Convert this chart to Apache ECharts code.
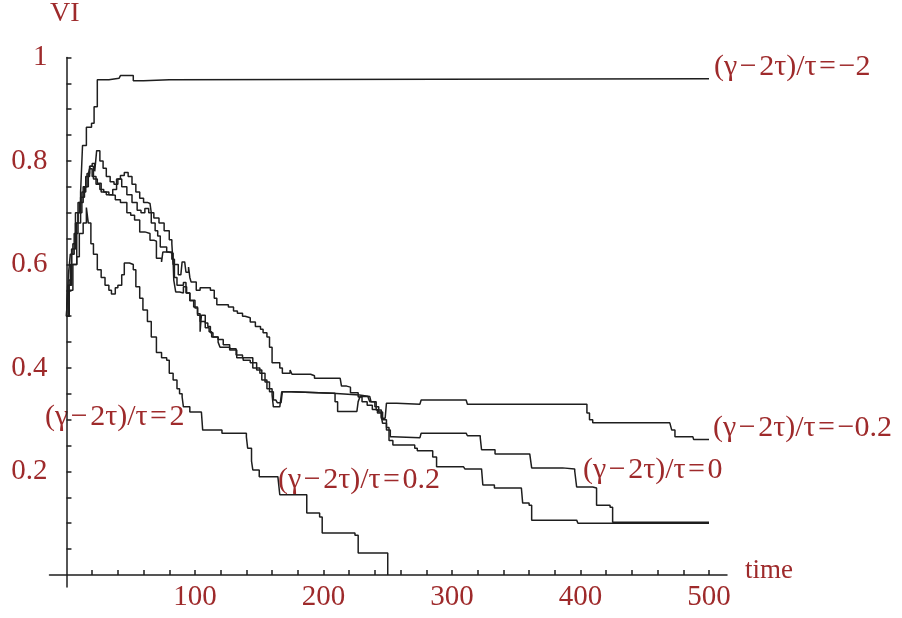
<!DOCTYPE html>
<html>
<head>
<meta charset="utf-8">
<script src="https://cdn.jsdelivr.net/npm/echarts@6/dist/echarts.min.js"></script>
<style>
html,body{margin:0;padding:0;background:#fff;}
#main{width:902px;height:618px;}
</style>
</head>
<body>
<div id="main"></div>
<script>
// tick values
var xLabels = [100, 200, 300, 400, 500];
var xTicks = [20, 40, 60, 80, 100, 120, 140, 160, 180, 200, 220, 240, 260, 280, 300, 320, 340, 360, 380, 400, 420, 440, 460, 480, 500];
var yLabels = [0.2, 0.4, 0.6, 0.8, 1];
var yTicks = [0.05, 0.1, 0.15, 0.2, 0.25, 0.3, 0.35, 0.4, 0.45, 0.5, 0.55, 0.6, 0.65, 0.7, 0.75, 0.8, 0.85, 0.9, 0.95, 1];

// (γ-2τ)/τ = -2
var curveM2 = [[0,0.5],[1.5,0.58],[3,0.62],[5,0.64],[7,0.68],[9,0.72],[11,0.74],[12.5,0.83],[15.5,0.865],[19.5,0.873],[21.5,0.905],[24,0.957],[33,0.957],[34,0.96],[41,0.96],[42,0.965],[50,0.965],[52,0.955],[60,0.953],[61,0.957],[80,0.957],[81,0.959],[500,0.959]];

// (γ-2τ)/τ = -0.2
var curveM02 = [[0,0.5],[2,0.57],[4,0.62],[6,0.66],[9,0.7],[12,0.74],[15,0.77],[18,0.785],[20,0.77],[23,0.755],[26,0.745],[29,0.74],[33,0.735],[36,0.745],[39,0.765],[42,0.772],[45,0.778],[48,0.77],[51,0.755],[54,0.74],[57,0.728],[60,0.72],[63,0.718],[65,0.715],[66,0.7],[68,0.69],[72,0.68],[76,0.665],[80,0.648],[82,0.64],[83,0.6],[87,0.58],[89,0.58],[90,0.605],[92,0.605],[93,0.585],[95,0.595],[96,0.575],[97,0.566],[101,0.55],[104,0.555],[112,0.55],[115,0.535],[117,0.522],[126,0.518],[130,0.51],[133,0.506],[137,0.5],[139,0.497],[143,0.489],[147,0.48],[151,0.475],[153,0.468],[156,0.46],[158,0.44],[160,0.41],[164,0.41],[166,0.4],[168,0.39],[174,0.396],[175.5,0.388],[190,0.388],[191,0.385],[193,0.38],[213,0.38],[214,0.365],[218,0.363],[221,0.352],[227,0.344],[230,0.335],[234,0.328],[238,0.32],[242,0.313],[245,0.303],[248,0.3],[249,0.332],[257,0.33],[275,0.33],[276,0.338],[311,0.338],[312,0.33],[402,0.33],[405,0.313],[407,0.3],[409.5,0.294],[469.5,0.294],[471,0.28],[473.5,0.267],[487.5,0.267],[488,0.262],[500,0.262]];

// (γ-2τ)/τ = 0
var curve0 = [[0,0.5],[2,0.56],[4,0.63],[7,0.7],[10,0.72],[13,0.75],[16,0.776],[18,0.79],[20,0.795],[22,0.78],[23.5,0.82],[26,0.8],[28.5,0.786],[31,0.77],[34,0.76],[37,0.755],[40,0.765],[43,0.75],[47,0.735],[51,0.72],[55,0.705],[58,0.7],[61,0.708],[64,0.7],[66,0.68],[69,0.665],[71,0.655],[73,0.634],[78,0.624],[82,0.61],[84,0.575],[86,0.56],[89,0.56],[91,0.565],[93,0.545],[96,0.53],[99,0.518],[102,0.505],[104,0.49],[106,0.49],[108,0.478],[111,0.47],[113,0.46],[118,0.455],[122,0.445],[127,0.437],[132,0.425],[137,0.42],[140,0.42],[145,0.4],[150.5,0.39],[154.5,0.373],[158,0.354],[161,0.338],[163,0.335],[164,0.333],[167,0.333],[168,0.354],[175,0.354],[176,0.351],[207,0.348],[228,0.345],[236,0.345],[237,0.335],[241,0.319],[245,0.306],[246,0.293],[249,0.28],[252,0.267],[254,0.265],[275,0.265],[276,0.274],[311,0.274],[312,0.269],[322,0.265],[323,0.242],[333.5,0.234],[360.5,0.234],[362,0.207],[386,0.205],[395.5,0.201],[397,0.17],[409.5,0.168],[412.5,0.135],[423,0.131],[425,0.102],[500,0.102]];

// (γ-2τ)/τ = 0.2
var curve02 = [[0,0.5],[2,0.55],[5,0.6],[8,0.68],[11,0.73],[14,0.75],[17,0.775],[18.5,0.79],[21,0.765],[24,0.757],[27,0.74],[31,0.735],[34,0.734],[38,0.725],[42,0.72],[47,0.7],[50,0.695],[53,0.686],[57,0.663],[61,0.66],[65,0.647],[68,0.645],[70,0.612],[74,0.605],[75,0.624],[79,0.622],[83,0.605],[83.5,0.57],[85,0.547],[88,0.545],[91,0.557],[93.5,0.545],[96,0.531],[100,0.516],[102,0.502],[104,0.47],[105,0.502],[108,0.487],[110,0.48],[112,0.468],[114,0.46],[118,0.45],[119.5,0.44],[127,0.435],[132.5,0.42],[137.5,0.415],[143,0.41],[148,0.396],[152,0.377],[156,0.36],[160,0.348],[161,0.325],[166,0.325],[167.5,0.354],[175,0.354],[176,0.351],[207,0.351],[209,0.335],[211,0.316],[226,0.316],[227,0.335],[228.5,0.345],[234.5,0.345],[236,0.335],[240,0.325],[243,0.315],[246,0.3],[249,0.285],[251,0.26],[254,0.251],[271,0.245],[273,0.24],[285,0.228],[288,0.209],[309,0.209],[310,0.205],[323,0.205],[324,0.174],[333,0.168],[354,0.168],[355,0.139],[360,0.135],[362,0.106],[397,0.106],[398,0.1],[500,0.1]];

// (γ-2τ)/τ = 2
var curve2 = [[0,0.5],[1,0.56],[3,0.6],[8,0.615],[10,0.66],[13,0.68],[15.5,0.71],[17,0.68],[19,0.64],[21,0.62],[24,0.59],[27,0.575],[30,0.56],[33,0.55],[35,0.543],[38,0.555],[40,0.56],[43,0.58],[45,0.603],[49,0.6],[52,0.59],[54,0.557],[57,0.535],[59.5,0.512],[63,0.49],[66,0.46],[70,0.43],[74,0.42],[78,0.415],[80,0.39],[83,0.377],[86,0.36],[88,0.35],[90,0.344],[91,0.325],[96,0.315],[105,0.313],[106,0.28],[121,0.274],[140,0.267],[141,0.245],[144,0.22],[145,0.203],[150,0.19],[164.5,0.187],[166,0.155],[184,0.155],[187,0.12],[197,0.112],[199,0.081],[224.5,0.077],[227,0.0425],[248,0.0425],[250,0]];

var labelColor = '#9e2a2b';
var lineColor = '#1e1e1e';
var serif = '"Liberation Serif", "DejaVu Serif", serif';
var hs = '\u200a'; // hair space, widens the operators like the original typesetting

var chart = echarts.init(document.getElementById('main'));

function curve(name, data) {
	return {
		name: name,
		type: 'line',
		step: 'end',
		data: data,
		showSymbol: false,
		symbol: 'none',
		lineStyle: {color: lineColor, width: 1.5},
		silent: true
	};
}

function curveLabel(value, x, y) {
	return {
		type: 'text',
		x: x,
		y: y,
		style: {
			text: '(γ' + hs + '−' + hs + '2τ)/τ' + hs + '=' + hs + value,
			fill: labelColor,
			font: '30px ' + serif,
			verticalAlign: 'middle'
		}
	};
}

var option = {
	animation: false,
	backgroundColor: '#fff',
	grid: {left: 49.5, top: 57.5, width: 677.5, height: 529.4, outerBoundsMode: 'none', containLabel: false},
	xAxis: {
		type: 'value',
		min: -13.2,
		max: 514,
		axisLine: {onZero: true, lineStyle: {color: lineColor, width: 1.5}},
		axisTick: {show: true, inside: true, length: 5, customValues: xTicks, lineStyle: {color: lineColor, width: 1.5}},
		axisLabel: {customValues: xLabels, color: labelColor, fontSize: 29, fontFamily: serif, margin: -4},
		splitLine: {show: false}
	},
	yAxis: {
		type: 'value',
		min: -0.023,
		max: 1,
		axisLine: {onZero: true, lineStyle: {color: lineColor, width: 1.5}},
		axisTick: {show: true, inside: true, length: 5, customValues: yTicks, lineStyle: {color: lineColor, width: 1.5}},
		axisLabel: {customValues: yLabels, color: labelColor, fontSize: 29, fontFamily: serif, margin: 2},
		splitLine: {show: false}
	},
	graphic: [
		{type: 'text', x: 50, y: 14, style: {text: 'VI', fill: labelColor, font: '28px ' + serif, verticalAlign: 'middle'}},
		{type: 'text', x: 745, y: 571, style: {text: 'time', fill: labelColor, font: '27px ' + serif, verticalAlign: 'middle'}},
		curveLabel('−2', 714, 67),
		curveLabel('−0.2', 713, 428),
		curveLabel('0', 583, 470),
		curveLabel('2', 45, 417),
		curveLabel('0.2', 278, 480)
	],
	series: [
		curve('-2', curveM2),
		curve('-0.2', curveM02),
		curve('0', curve0),
		curve('0.2', curve02),
		curve('2', curve2)
	]
};
chart.setOption(option);
</script>
</body>
</html>
